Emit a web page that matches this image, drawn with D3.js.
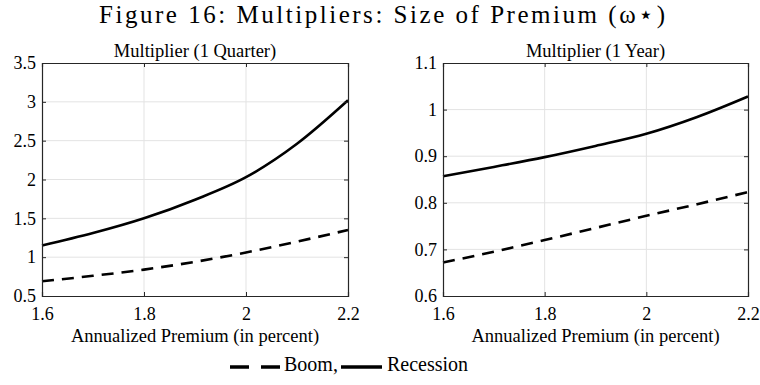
<!DOCTYPE html>
<html>
<head>
<meta charset="utf-8">
<script src="https://cdn.jsdelivr.net/npm/d3@7"></script>
<style>
  html, body { margin: 0; padding: 0; background: #fff; }
  svg { display: block; }
  text { font-family: "Liberation Serif", "Times New Roman", serif; fill: #000; }
</style>
</head>
<body>
<svg id="chart" width="760" height="385"></svg>
<script>
// Annualized premium grid (percent)
const premium = [1.6, 1.7, 1.8, 1.9, 2.0, 2.1, 2.2];

// Impact multiplier after one quarter
const quarterRecession = [1.15, 1.31, 1.50, 1.74, 2.03, 2.46, 3.02];
const quarterBoom      = [0.69, 0.76, 0.84, 0.94, 1.06, 1.20, 1.35];

// Cumulative multiplier after one year
const yearRecession = [0.857, 0.877, 0.898, 0.922, 0.948, 0.984, 1.028];
const yearBoom      = [0.672, 0.695, 0.720, 0.746, 0.772, 0.797, 0.823];

const xTicks = [1.6, 1.8, 2.0, 2.2];
const quarterTicks = [0.5, 1, 1.5, 2, 2.5, 3, 3.5];
const yearTicks = [0.6, 0.7, 0.8, 0.9, 1.0, 1.1];

const serif = "'Liberation Serif', 'Times New Roman', serif";
const svg = d3.select("#chart");

svg.append("text")
  .attr("x", 382).attr("y", 23)
  .attr("text-anchor", "middle")
  .attr("textLength", 566).attr("lengthAdjust", "spacing")
  .style("font-size", "25px").style("font-family", serif)
  .text("Figure 16: Multipliers: Size of Premium (ω⋆)");

function panel(opts) {
  const { left, right, top, bottom, title, yDomain, yTickVals, recession, boom } = opts;
  const g = svg.append("g");
  const x = d3.scaleLinear().domain([1.6, 2.2]).range([left, right]);
  const y = d3.scaleLinear().domain(yDomain).range([bottom, top]);

  // grid
  g.selectAll(".gx").data(xTicks.slice(1, -1)).join("line")
    .attr("x1", d => x(d)).attr("x2", d => x(d))
    .attr("y1", top).attr("y2", bottom)
    .attr("stroke", "#e3e3e3").attr("stroke-width", 1);
  g.selectAll(".gy").data(yTickVals.slice(1, -1)).join("line")
    .attr("x1", left).attr("x2", right)
    .attr("y1", d => y(d)).attr("y2", d => y(d))
    .attr("stroke", "#e3e3e3").attr("stroke-width", 1);

  // curves
  const line = d3.line().x(d => x(d[0])).y(d => y(d[1])).curve(d3.curveMonotoneX);
  g.append("path").datum(d3.zip(premium, boom))
    .attr("d", line).attr("fill", "none")
    .attr("stroke", "#000").attr("stroke-width", 2.6)
    .attr("stroke-dasharray", "12,8");
  g.append("path").datum(d3.zip(premium, recession))
    .attr("d", line).attr("fill", "none")
    .attr("stroke", "#000").attr("stroke-width", 2.6);

  // axes: ticks drawn inward, box closed on all sides
  const fmt = d => String(+d.toFixed(2));
  const ax = g.append("g").attr("transform", `translate(0,${bottom})`)
    .call(d3.axisBottom(x).tickValues(xTicks).tickSize(-4).tickPadding(11).tickFormat(fmt));
  const axTop = g.append("g").attr("transform", `translate(0,${top})`)
    .call(d3.axisTop(x).tickValues(xTicks).tickSize(-4).tickFormat(""));
  const ay = g.append("g").attr("transform", `translate(${left},0)`)
    .call(d3.axisLeft(y).tickValues(yTickVals).tickSize(-4).tickPadding(6).tickFormat(fmt));
  const ayR = g.append("g").attr("transform", `translate(${right},0)`)
    .call(d3.axisRight(y).tickValues(yTickVals).tickSize(-4).tickFormat(""));
  [ax, axTop, ay, ayR].forEach(a => {
    a.attr("font-family", null);
    a.selectAll("path").attr("stroke", "#262626").attr("stroke-width", 1.2);
    a.selectAll("line").attr("stroke", "#262626");
    a.selectAll("text").style("font-size", "18px").attr("fill", "#262626")
      .style("font-family", serif);
  });

  g.append("text")
    .attr("x", (left + right) / 2).attr("y", top - 6)
    .attr("text-anchor", "middle").style("font-size", "18.5px").style("font-family", serif)
    .text(title);
  g.append("text")
    .attr("x", (left + right) / 2).attr("y", bottom + 46)
    .attr("text-anchor", "middle").style("font-size", "18.5px").style("font-family", serif)
    .text("Annualized Premium (in percent)");
}

panel({ left: 42, right: 348, top: 63, bottom: 296, title: "Multiplier (1 Quarter)",
        yDomain: [0.5, 3.5], yTickVals: quarterTicks, recession: quarterRecession, boom: quarterBoom });
panel({ left: 443, right: 748, top: 63, bottom: 296, title: "Multiplier (1 Year)",
        yDomain: [0.6, 1.1], yTickVals: yearTicks, recession: yearRecession, boom: yearBoom });

// legend
const legend = svg.append("g");
legend.append("line").attr("x1", 230).attr("x2", 280).attr("y1", 367).attr("y2", 367)
  .attr("stroke", "#000").attr("stroke-width", 3.4).attr("stroke-dasharray", "19,12");
legend.append("text").attr("x", 284).attr("y", 371).style("font-size", "20px").style("font-family", serif).text("Boom,");
legend.append("line").attr("x1", 341).attr("x2", 382).attr("y1", 367).attr("y2", 367)
  .attr("stroke", "#000").attr("stroke-width", 3.4);
legend.append("text").attr("x", 387).attr("y", 371).style("font-size", "20px").style("font-family", serif).text("Recession");
</script>
</body>
</html>
